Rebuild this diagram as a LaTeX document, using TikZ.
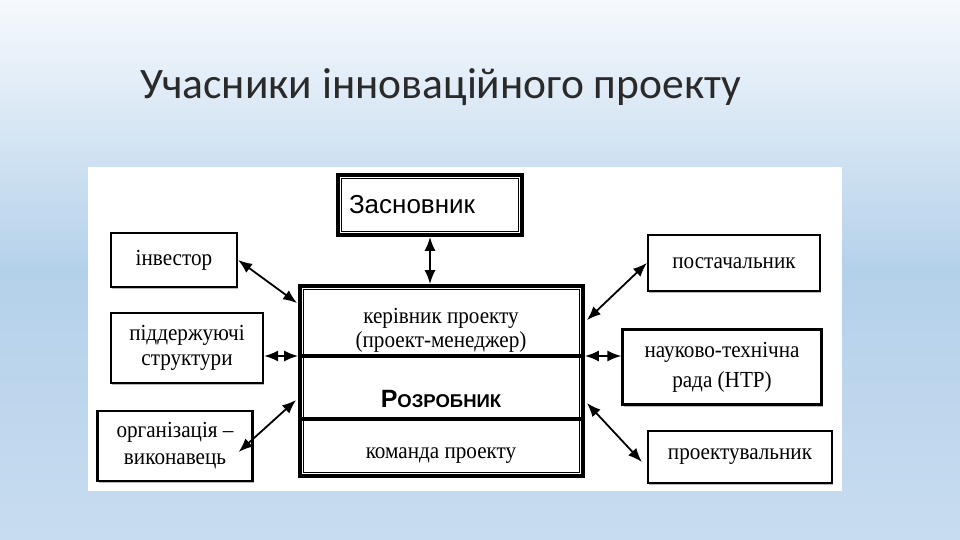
\documentclass[tikz,border=0pt]{standalone}
\usepackage{fontspec}
\setmainfont{Liberation Serif}
\newfontfamily\titlefont{Carlito}
\newfontfamily\boxfont[FakeStretch=0.92]{Liberation Serif}
\newfontfamily\headfont{Liberation Sans}
\usetikzlibrary{arrows.meta,calc,shadows}
\definecolor{bgtop}{HTML}{F6F9FD}
\definecolor{bgmid}{HTML}{B4D1EA}
\definecolor{bgbot}{HTML}{C8DCF0}
\definecolor{titlegray}{HTML}{2A2A2A}
\tikzset{
  partbox/.style={draw=black, line width=2.2pt, fill=white, inner sep=2pt, align=center,
    font=\boxfont\fontsize{23}{25}\selectfont,
    drop shadow={shadow xshift=1.2pt, shadow yshift=-2pt, fill=black!55}},
  framebox/.style={partbox, line width=3.8pt},
  boxtext/.style={inner sep=0pt, align=center, font=\boxfont\fontsize{23}{24}\selectfont},
  link/.style={{Latex[length=14pt,width=11pt]}-{Latex[length=14pt,width=11pt]}, line width=1.8pt},
  divider/.style={line width=3.5pt},
}
\begin{document}
\begin{tikzpicture}[x=1pt, y=-1pt]
\useasboundingbox (0,0) rectangle (960,540);
% slide background
\begin{scope}[yscale=-1]
\shade[top color=bgtop, bottom color=bgmid] (0,0) rectangle (960,-270);
\shade[top color=bgmid, bottom color=bgbot] (0,-270) rectangle (960,-540);
\end{scope}
\fill[white] (88,167) rectangle (842,491);

\node[anchor=base west, text=titlegray, inner sep=0pt, font=\titlefont\fontsize{43.5}{46}\selectfont] (title) at (140,99) {Учасники інноваційного проекту};

% boxes
\node[framebox, minimum width=184pt, minimum height=60pt, text width=162pt, align=left,
  font=\headfont\fontsize{26}{28}\selectfont] (zas) at (430,205) {Засновник};
\draw[line width=1pt] ($(zas.north west)+(5,5)$) rectangle ($(zas.south east)+(-5,-5)$);

\node[framebox, minimum width=283pt, minimum height=190pt] (main) at (441.5,381) {};
\draw[line width=1pt] ($(main.north west)+(5,5)$) rectangle ($(main.south east)+(-5,-5)$);
\draw[divider] (main.west |- 0,356) -- (main.east |- 0,356);
\draw[divider] (main.west |- 0,419) -- (main.east |- 0,419);
\node[boxtext] (ker) at (441,330) {керівник проекту\\(проект-менеджер)};
\node[boxtext, font=\headfont\bfseries\fontsize{25}{26}\selectfont] (rozr) at (441,399) {Р{\fontsize{18.5}{20}\selectfont ОЗРОБНИК}};
\node[boxtext] (kom) at (441,456) {команда проекту};

\node[partbox, minimum width=126pt, minimum height=54pt] (inv) at (174,260) {інвестор};
\node[partbox, minimum width=152pt, minimum height=70pt] (pidtr) at (187,348) {піддержуючі\\структури};
\node[partbox, minimum width=155pt, minimum height=70pt, font=\boxfont\fontsize{23}{27}\selectfont] (org) at (175,446) {організація –\\виконавець};

\node[partbox, minimum width=172pt, minimum height=56pt] (post) at (734,263) {постачальник};
\node[partbox, minimum width=199pt, minimum height=75pt, font=\boxfont\fontsize{23}{30}\selectfont] (ntr) at (722,367) {науково-технічна\\рада (НТР)};
\node[partbox, minimum width=184pt, minimum height=52pt] (proj) at (740,457) {проектувальник};

% connectors
\draw[link] (zas.south) -- (zas.south |- main.north);
\draw[link] (inv.east) -- ($(main.north west)+(-1,19)$);
\draw[link] (pidtr.east |- 0,356) -- (main.west |- 0,356);
\draw[link] ($(org.east)+(-15,6)$) -- ($(main.west)+(-2,19)$);
\draw[link] (post.west) -- ($(main.north east)+(2,36)$);
\draw[link] (main.east |- 0,356) -- (ntr.west |- 0,356);
\draw[link] ($(main.east)+(2,22)$) -- ($(proj.west)+(-5,5)$);
\end{tikzpicture}
\end{document}
